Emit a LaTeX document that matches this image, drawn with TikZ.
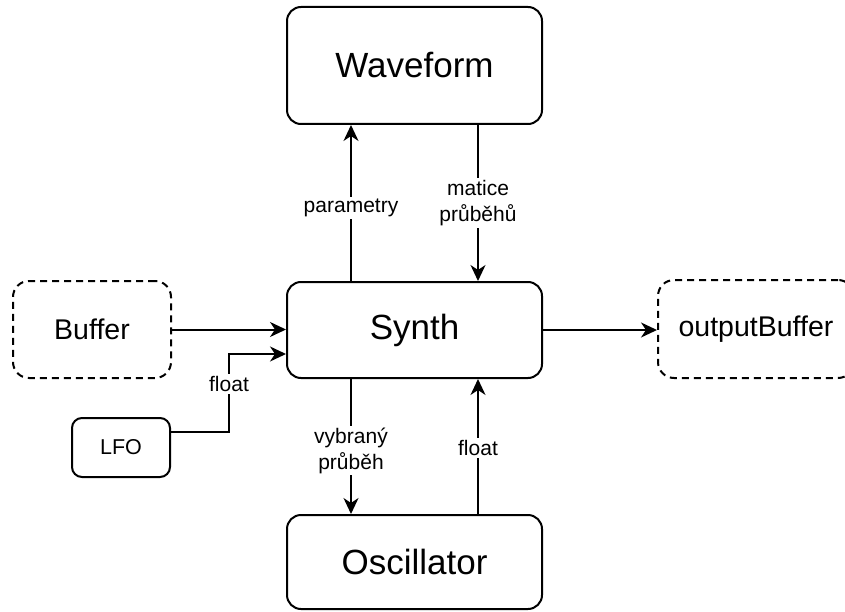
\documentclass[tikz,border=0pt]{standalone}
\usepackage{fontspec}
\setmainfont{Liberation Sans}
\usetikzlibrary{arrows.meta}
\begin{document}
\begin{tikzpicture}[x=1pt,y=-1pt,
  box/.style={draw=black, line width=2pt, rounded corners=14pt, inner sep=0pt, fill=white, align=center},
  bigbox/.style={box, minimum width=255pt, font=\fontsize{35}{40}\selectfont},
  bufbox/.style={box, dash pattern=on 7pt off 5pt, rounded corners=16pt, font=\fontsize{28.5}{34}\selectfont},
  smallbox/.style={box, rounded corners=10pt, font=\fontsize{21.5}{26}\selectfont},
  link/.style={line width=2pt, -{Stealth[length=16pt,width=15pt,inset=5pt]}},
  lbl/.style={fill=white, inner sep=2pt, align=center, font=\fontsize{21}{26}\selectfont}
]
\useasboundingbox (0,0) rectangle (845,612);
\clip (0,0) rectangle (845,612);

% blocks
\node[bigbox, minimum height=117pt] (wave) at (414.5,65.5) {Waveform};
\node[bigbox, minimum height=96pt] (synth) at (414.5,330) {Synth};
\node[bigbox, minimum height=94pt] (osc) at (414.5,562) {Oscillator};
\node[bufbox, minimum width=158pt, minimum height=97pt] (buf) at (92,329.5) {Buffer};
\node[bufbox, minimum width=196pt, minimum height=98pt] (out) at (756,329) {outputBuffer};
\node[smallbox, minimum width=98pt, minimum height=59pt] (lfo) at (121,447.5) {LFO};

% connector columns
\coordinate (lx) at (351,0);
\coordinate (rx) at (478,0);
\coordinate (bend) at (229,400);

% connectors
\draw[link] (synth.north -| lx) -- node[lbl, pos=0.47] {parametry} (wave.south -| lx);
\draw[link] (wave.south -| rx) -- node[lbl, pos=0.5] {matice\\průběhů} (synth.north -| rx);
\draw[link] (synth.south -| lx) -- node[lbl, pos=0.53] {vybraný\\průběh} (osc.north -| lx);
\draw[link] (osc.north -| rx) -- node[lbl, pos=0.49] {float} (synth.south -| rx);
\draw[link] (buf.east) -- (buf.east -| synth.west);
\draw[link] (synth.east) -- (synth.east -| out.west);
\draw[link] ([yshift=15.5pt]lfo.east) -| (bend) |- ([yshift=-24pt]synth.west);
\node[lbl] at (229,384) {float};
\end{tikzpicture}
\end{document}
